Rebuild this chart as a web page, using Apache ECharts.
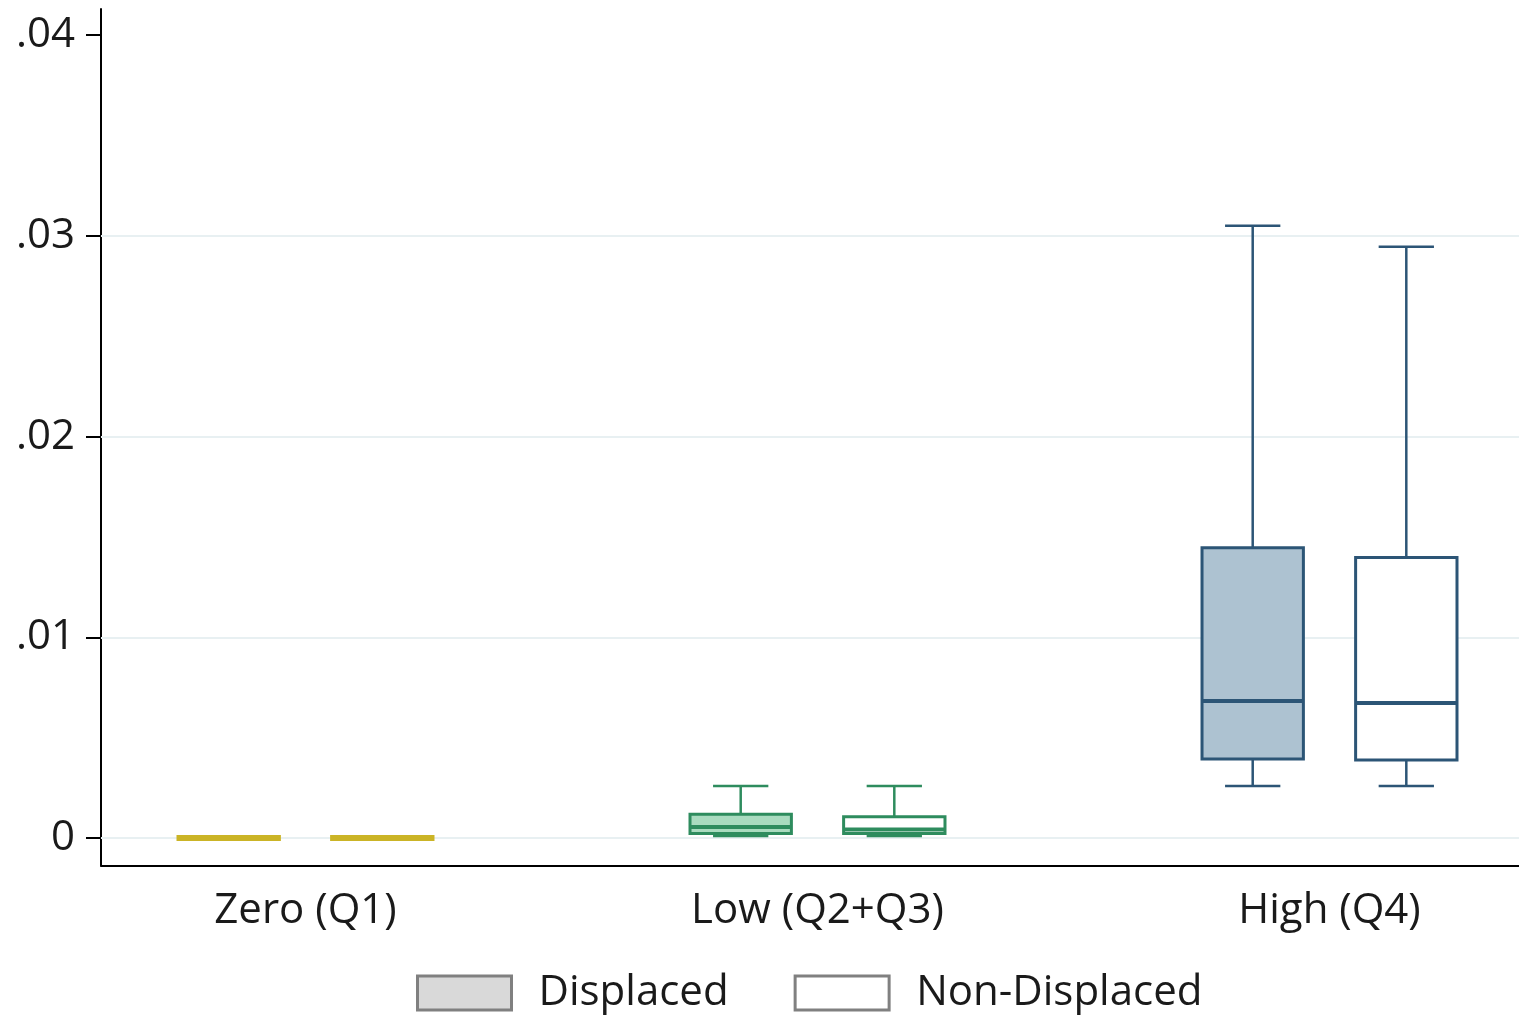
<!DOCTYPE html>
<html>
<head>
<meta charset="utf-8">
<style>
  html, body { margin: 0; padding: 0; background: #ffffff; }
  #chart { width: 1519px; height: 1018px; }
</style>
<script src="https://cdn.jsdelivr.net/npm/echarts@6/dist/echarts.min.js"></script>
</head>
<body>
<div id="chart"></div>
<script>
// Income groups along the x axis (positions 1, 2, 3)
const groups = ['Zero (Q1)', 'Low (Q2+Q3)', 'High (Q4)'];
const groupPos = [1, 2, 3];

// Box statistics per group: [lower whisker, Q1, median, Q3, upper whisker]
const displaced = [
  [0, 0, 0, 0, 0],
  [0.00010, 0.00022, 0.00055, 0.00118, 0.00259],
  [0.00259, 0.00394, 0.00683, 0.01446, 0.03050]
];
const nonDisplaced = [
  [0, 0, 0, 0, 0],
  [0.00010, 0.00022, 0.00042, 0.00106, 0.00259],
  [0.00259, 0.00389, 0.00673, 0.01397, 0.02945]
];

// Y tick labels and grid lines
const yTicks = [0, 0.01, 0.02, 0.03, 0.04];
const yTickLabels = ['0', '.01', '.02', '.03', '.04'];
const gridLines = [0, 0.01, 0.02, 0.03];

// Colours per group
const strokeColors = ['#cbb426', '#2e8c5e', '#2c5576'];
const displacedFills = ['#cbb426', '#a9dbbf', '#adc2d1'];
const nonDisplacedFills = ['#ffffff', '#ffffff', '#ffffff'];

const SHIFT = 0.15;      // horizontal offset of each box from its group centre
const BOX_HALF = 0.099;  // half box width (x units)
const CAP_HALF = 0.054;  // half whisker cap width (x units)

function rows(stats) {
  return stats.map((s, i) => [groupPos[i]].concat(s));
}

function boxRenderer(offset, fills) {
  return function (params, api) {
    const i = params.dataIndex;
    const cx = api.value(0) + offset;
    const lo = api.value(1), q1 = api.value(2), med = api.value(3), q3 = api.value(4), hi = api.value(5);
    const stroke = strokeColors[i];
    const tl = api.coord([cx - BOX_HALF, q3]);
    const br = api.coord([cx + BOX_HALF, q1]);
    const c = api.coord([cx, 0])[0];
    const yHi = api.coord([cx, hi])[1];
    const yLo = api.coord([cx, lo])[1];
    const yMed = api.coord([cx, med])[1];
    const capL = api.coord([cx - CAP_HALF, 0])[0];
    const capR = api.coord([cx + CAP_HALF, 0])[0];
    const lw = 2.5;
    const line = (x1, y1, x2, y2, w) => ({
      type: 'line',
      shape: { x1, y1, x2, y2 },
      style: { stroke, lineWidth: w, lineCap: 'butt' }
    });
    // A box with no spread collapses to a single heavy bar
    if (Math.abs(br[1] - tl[1]) < 1) {
      return {
        type: 'group',
        children: [line(tl[0] - 1.5, yMed, br[0] + 1.5, yMed, 6)]
      };
    }
    return {
      type: 'group',
      children: [
        line(c, tl[1], c, yHi, lw),
        line(capL, yHi, capR, yHi, lw),
        line(c, br[1], c, yLo, lw),
        line(capL, yLo, capR, yLo, lw),
        {
          type: 'rect',
          shape: { x: tl[0], y: tl[1], width: br[0] - tl[0], height: br[1] - tl[1] },
          style: { fill: fills[i], stroke, lineWidth: 3 }
        },
        line(tl[0], yMed, br[0], yMed, 4)
      ]
    };
  };
}

const FONT = '"Open Sans", "Noto Sans", sans-serif';

const chart = echarts.init(document.getElementById('chart'), null, { renderer: 'canvas' });
chart.setOption({
  backgroundColor: '#ffffff',
  animation: false,
  grid: { left: 101, right: 0, top: 9, bottom: 152.5 },
  xAxis: {
    type: 'value',
    min: 0.6006,
    max: 3.3701,
    splitLine: { show: false },
    axisTick: { show: false },
    axisLine: { show: true, onZero: false, lineStyle: { color: '#000000', width: 2 } },
    axisLabel: {
      customValues: groupPos,
      formatter: v => groups[Math.round(v) - 1] || '',
      color: '#1a1a1a',
      fontFamily: FONT,
      fontSize: 42,
      margin: 25
    }
  },
  yAxis: {
    type: 'value',
    min: -0.00137,
    max: 0.0413,
    splitLine: { show: false },
    axisLine: { show: true, lineStyle: { color: '#000000', width: 2 } },
    axisTick: {
      show: true,
      customValues: yTicks,
      length: 15,
      lineStyle: { color: '#000000', width: 2 }
    },
    axisLabel: {
      customValues: yTicks,
      formatter: v => {
        const k = yTicks.findIndex(t => Math.abs(t - v) < 1e-9);
        return k >= 0 ? yTickLabels[k] : '';
      },
      color: '#1a1a1a',
      fontFamily: FONT,
      fontSize: 42,
      margin: 26,
      padding: [10, 0, 0, 0]
    }
  },
  legend: {
    left: 416,
    top: 972,
    padding: 0,
    itemWidth: 94,
    itemHeight: 34,
    itemGap: 65,
    textStyle: { color: '#1a1a1a', fontFamily: FONT, fontSize: 42, padding: [0, 0, 0, 22] },
    data: [
      { name: 'Displaced', icon: 'rect', itemStyle: { color: '#d9d9d9', borderColor: '#808080', borderWidth: 3 } },
      { name: 'Non-Displaced', icon: 'rect', itemStyle: { color: '#ffffff', borderColor: '#808080', borderWidth: 3 } }
    ]
  },
  series: [
    {
      name: 'grid',
      type: 'line',
      data: [],
      z: 1,
      silent: true,
      markLine: {
        silent: true,
        z: 1,
        symbol: ['none', 'none'],
        label: { show: false },
        lineStyle: { color: '#e8f0f2', width: 2, type: 'solid' },
        data: gridLines.map(v => ({ yAxis: v }))
      }
    },
    {
      name: 'Displaced',
      type: 'custom',
      z: 10,
      clip: false,
      renderItem: boxRenderer(-SHIFT, displacedFills),
      encode: { x: 0, y: [1, 2, 3, 4, 5] },
      data: rows(displaced)
    },
    {
      name: 'Non-Displaced',
      type: 'custom',
      z: 10,
      clip: false,
      renderItem: boxRenderer(SHIFT, nonDisplacedFills),
      encode: { x: 0, y: [1, 2, 3, 4, 5] },
      data: rows(nonDisplaced)
    }
  ]
});
</script>
</body>
</html>
